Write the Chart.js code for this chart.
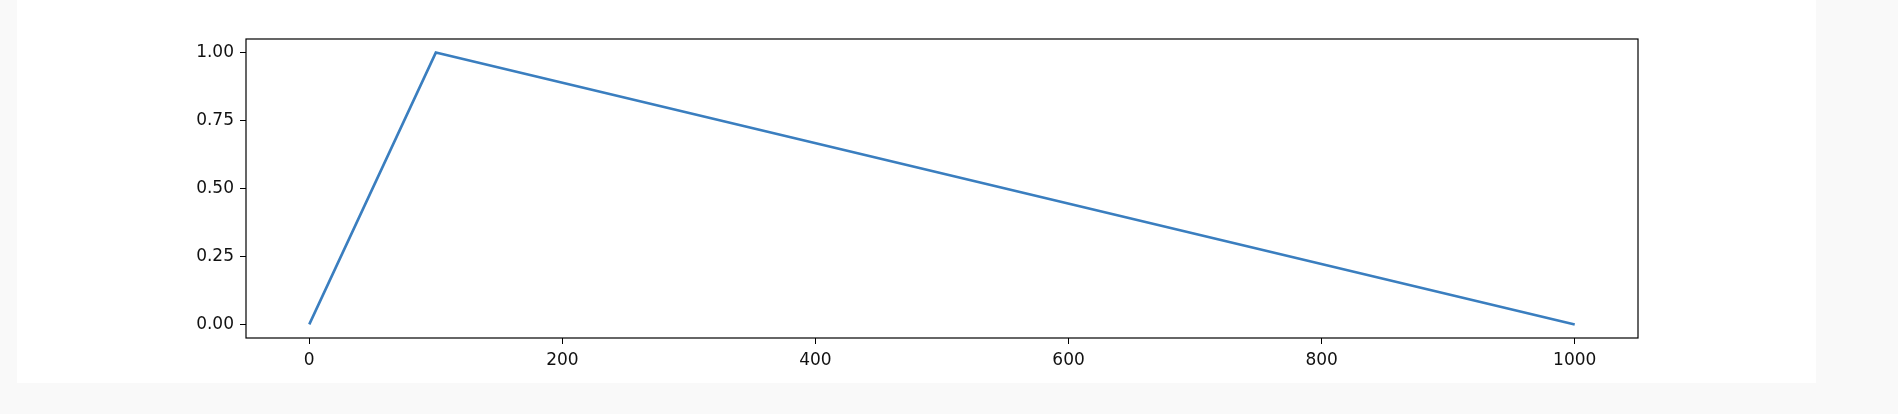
<!DOCTYPE html>
<html lang="en">
<head>
<meta charset="UTF-8">
<title>Schedule</title>
<script src="https://cdn.jsdelivr.net/npm/chart.js@4"></script>
<style>
  body { margin: 0; background: #f9f9f9; width: 1898px; height: 414px; overflow: hidden; }
  .card { position: absolute; left: 17px; top: 0; width: 1799px; height: 383px; background: #fff; }
  canvas { position: absolute; left: 0; top: 0; }
</style>
</head>
<body>
<div class="card"></div>
<canvas id="c" width="1898" height="414"></canvas>
<script>
  // x/y points of the curve (warmup then linear decay)
  const steps = [0, 100, 1000];
  const values = [0, 1, 0];
  const xTicks = [0, 200, 400, 600, 800, 1000];
  const yTicks = [0, 0.25, 0.5, 0.75, 1.0];

  const frame = {
    id: 'frame',
    afterDraw(chart) {
      const a = chart.chartArea, ctx = chart.ctx;
      ctx.save();
      ctx.strokeStyle = '#000';
      ctx.lineWidth = 1.2;
      ctx.strokeRect(a.left, a.top, a.right - a.left, a.bottom - a.top);
      ctx.restore();
    }
  };

  const font = { family: 'DejaVu Sans', size: 17 };
  new Chart('c', {
    type: 'line',
    data: {
      datasets: [{
        data: steps.map((s, i) => ({ x: s, y: values[i] })),
        borderColor: '#3a7ebf',
        borderWidth: 2.6,
        pointRadius: 0,
        fill: false,
        tension: 0
      }]
    },
    options: {
      responsive: false,
      animation: false,
      layout: { padding: { left: 160, top: 39, right: 260, bottom: 28 } },
      plugins: { legend: { display: false }, tooltip: { enabled: false } },
      scales: {
        x: {
          type: 'linear', min: -50, max: 1050,
          afterBuildTicks(s) { s.ticks = xTicks.map(v => ({ value: v })); },
          afterFit(s) { s.height = 48; },
          grid: { drawOnChartArea: false, color: '#000', tickLength: 6 },
          border: { display: false },
          ticks: { color: '#111', font, padding: 6, maxRotation: 0, callback: v => String(v) }
        },
        y: {
          min: -0.05, max: 1.05,
          afterBuildTicks(s) { s.ticks = yTicks.map(v => ({ value: v })); },
          afterFit(s) { s.width = 86; },
          grid: { drawOnChartArea: false, color: '#000', tickLength: 6 },
          border: { display: false },
          ticks: { color: '#111', font, padding: 6, callback: v => v.toFixed(2) }
        }
      }
    },
    plugins: [frame]
  });
</script>
</body>
</html>
